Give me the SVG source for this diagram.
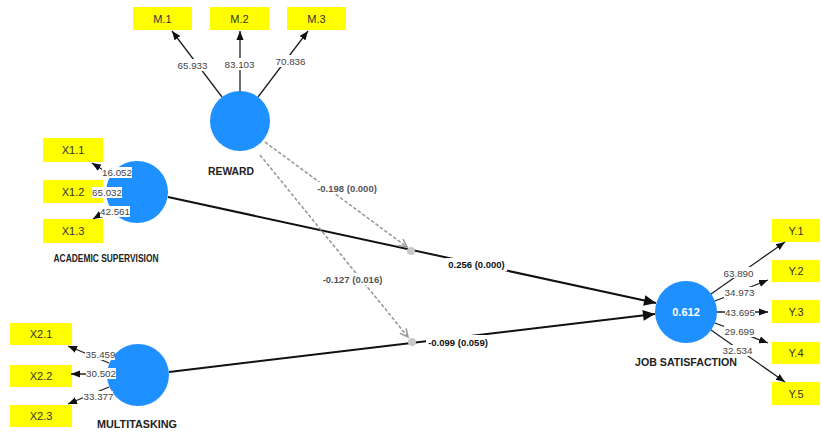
<svg xmlns="http://www.w3.org/2000/svg" width="822" height="432" viewBox="0 0 822 432">
<style>
.bg{fill:#ffffff}
.lv{fill:#1E90FF}
.box{fill:#FFFF00}
.bt{font-family:"Liberation Sans",Arial,sans-serif;font-size:11px;fill:#333;text-anchor:middle}
.nm{font-family:"Liberation Sans",Arial,sans-serif;font-size:11px;font-weight:bold;fill:#222;text-anchor:middle}
.r2{font-family:"Liberation Sans",Arial,sans-serif;font-size:11px;font-weight:bold;fill:#fff;text-anchor:middle}
.ld{stroke:#222;stroke-width:1.3;fill:none}
.lt{font-family:"Liberation Sans",Arial,sans-serif;font-size:9.8px;fill:#444;text-anchor:middle}
.lb{fill:#fff}
.mp{stroke:#111;stroke-width:2;fill:none}
.pt{font-family:"Liberation Sans",Arial,sans-serif;font-size:9.5px;font-weight:bold;fill:#111;text-anchor:middle}
.dp{stroke:#9a9a9a;stroke-width:1.6;stroke-dasharray:3.5,2;fill:none}
.dt{font-family:"Liberation Sans",Arial,sans-serif;font-size:9.5px;font-weight:bold;fill:#555;text-anchor:middle}
.dot{fill:#c8c8c8}
</style>
<defs>
<marker id="ah" viewBox="0 0 10 10" refX="10" refY="5" markerWidth="9" markerHeight="9" markerUnits="userSpaceOnUse" orient="auto"><path d="M0,1 L10,5 L0,9 z" fill="#111"/></marker>
<marker id="big" viewBox="0 0 10 10" refX="10" refY="5" markerWidth="14" markerHeight="12" markerUnits="userSpaceOnUse" orient="auto"><path d="M0,0.5 L10,5 L0,9.5 z" fill="#111"/></marker>
<marker id="oa" viewBox="0 0 10 10" refX="9" refY="5" markerWidth="10" markerHeight="10" markerUnits="userSpaceOnUse" orient="auto"><path d="M1,1 L9,5 L1,9" fill="none" stroke="#9a9a9a" stroke-width="1.5"/></marker>
</defs>
<rect class="bg" x="0" y="0" width="822" height="432"/>

<g id="reward">
<circle class="lv" cx="240" cy="121" r="30"/>
<text class="nm" x="231" y="175" textLength="46" lengthAdjust="spacingAndGlyphs">REWARD</text>
</g>
<g id="m1"><rect class="box" x="133" y="7" width="59" height="23"/><text class="bt" x="162.5" y="22.5">M.1</text></g>
<g id="m2"><rect class="box" x="210" y="7" width="59" height="23"/><text class="bt" x="239.5" y="22.5">M.2</text></g>
<g id="m3"><rect class="box" x="287" y="7" width="59" height="23"/><text class="bt" x="316.5" y="22.5">M.3</text></g>

<g id="academic-supervision">
<circle class="lv" cx="137" cy="192" r="31"/>
<text class="nm" x="106" y="262" textLength="105" lengthAdjust="spacingAndGlyphs">ACADEMIC SUPERVISION</text>
</g>
<g id="x1-1"><rect class="box" x="43" y="138" width="60" height="24"/><text class="bt" x="73" y="154">X1.1</text></g>
<g id="x1-2"><rect class="box" x="43" y="180" width="60" height="23"/><text class="bt" x="73" y="195.5">X1.2</text></g>
<g id="x1-3"><rect class="box" x="43" y="219" width="60" height="24"/><text class="bt" x="73" y="235">X1.3</text></g>

<g id="multitasking">
<circle class="lv" cx="138" cy="375" r="31"/>
<text class="nm" x="137" y="428" textLength="80" lengthAdjust="spacingAndGlyphs">MULTITASKING</text>
</g>
<g id="x2-1"><rect class="box" x="10" y="323" width="62" height="22"/><text class="bt" x="41" y="338">X2.1</text></g>
<g id="x2-2"><rect class="box" x="10" y="365" width="62" height="22"/><text class="bt" x="41" y="380">X2.2</text></g>
<g id="x2-3"><rect class="box" x="10" y="405" width="62" height="22"/><text class="bt" x="41" y="420">X2.3</text></g>

<g id="job-satisfaction">
<circle class="lv" cx="686" cy="312" r="31"/>
<text class="r2" x="686" y="316">0.612</text>
<text class="nm" x="686" y="366" textLength="102" lengthAdjust="spacingAndGlyphs">JOB SATISFACTION</text>
</g>
<g id="y1"><rect class="box" x="772" y="219" width="48" height="23"/><text class="bt" x="796" y="234.5">Y.1</text></g>
<g id="y2"><rect class="box" x="772" y="260" width="48" height="22"/><text class="bt" x="796" y="275">Y.2</text></g>
<g id="y3"><rect class="box" x="772" y="300" width="48" height="23"/><text class="bt" x="796" y="315.5">Y.3</text></g>
<g id="y4"><rect class="box" x="772" y="342" width="48" height="22"/><text class="bt" x="796" y="357">Y.4</text></g>
<g id="y5"><rect class="box" x="772" y="382" width="48" height="23"/><text class="bt" x="796" y="397.5">Y.5</text></g>

<g id="connectors">
<!-- structural paths -->
<line class="mp" x1="168" y1="197" x2="656" y2="303" marker-end="url(#big)"/>
<line class="mp" x1="169" y1="372" x2="655" y2="314" marker-end="url(#big)"/>
<!-- moderating paths -->
<line class="dp" x1="265" y1="142" x2="407" y2="247" marker-end="url(#oa)"/>
<line class="dp" x1="260" y1="155" x2="408" y2="337" marker-end="url(#oa)"/>
<circle class="dot" cx="411" cy="251" r="4"/>
<circle class="dot" cx="412" cy="342" r="4"/>
<rect class="lb" x="446" y="258" width="61" height="13"/><text class="pt" x="476.5" y="268">0.256 (0.000)</text>
<rect class="lb" x="426" y="335" width="63" height="12"/><text class="pt" x="458" y="345.5">-0.099 (0.059)</text>
<rect class="lb" x="316" y="182" width="62" height="12"/><text class="dt" x="347" y="192">-0.198 (0.000)</text>
<rect class="lb" x="321" y="273" width="63" height="12"/><text class="dt" x="352.5" y="283">-0.127 (0.016)</text>

<!-- reward loadings -->
<line class="ld" x1="222" y1="97" x2="172" y2="31" marker-end="url(#ah)"/>
<line class="ld" x1="240" y1="91" x2="240" y2="31" marker-end="url(#ah)"/>
<line class="ld" x1="258" y1="97" x2="308" y2="31" marker-end="url(#ah)"/>
<rect class="lb" x="177" y="59" width="31" height="12"/><text class="lt" x="192.5" y="68.5">65.933</text>
<rect class="lb" x="224" y="58" width="31" height="12"/><text class="lt" x="239.5" y="67.5">83.103</text>
<rect class="lb" x="275" y="55" width="31" height="12"/><text class="lt" x="290.5" y="64.5">70.836</text>

<!-- academic supervision loadings -->
<line class="ld" x1="111" y1="175" x2="92" y2="163" marker-end="url(#ah)"/>
<line class="ld" x1="106" y1="192" x2="103" y2="192" marker-end="url(#ah)"/>
<line class="ld" x1="111" y1="208" x2="93" y2="219" marker-end="url(#ah)"/>
<rect class="lb" x="102" y="167" width="30" height="11"/><text class="lt" x="117" y="176">16.052</text>
<rect class="lb" x="92" y="187" width="30" height="11"/><text class="lt" x="107" y="196">65.032</text>
<rect class="lb" x="100" y="206" width="30" height="11"/><text class="lt" x="115" y="215">42.561</text>

<!-- multitasking loadings -->
<line class="ld" x1="109" y1="363" x2="68" y2="346" marker-end="url(#ah)"/>
<line class="ld" x1="107" y1="374" x2="71" y2="374" marker-end="url(#ah)"/>
<line class="ld" x1="109" y1="387" x2="68" y2="404" marker-end="url(#ah)"/>
<rect class="lb" x="85" y="349" width="30" height="11"/><text class="lt" x="100.5" y="358">35.459</text>
<rect class="lb" x="86" y="368" width="30" height="11"/><text class="lt" x="101" y="377">30.502</text>
<rect class="lb" x="83" y="391" width="30" height="11"/><text class="lt" x="98.5" y="400">33.377</text>

<!-- job satisfaction loadings -->
<line class="ld" x1="711" y1="294" x2="785" y2="242" marker-end="url(#ah)"/>
<line class="ld" x1="715" y1="301" x2="768" y2="280" marker-end="url(#ah)"/>
<line class="ld" x1="717" y1="312" x2="768" y2="312" marker-end="url(#ah)"/>
<line class="ld" x1="715" y1="323" x2="768" y2="343" marker-end="url(#ah)"/>
<line class="ld" x1="711" y1="330" x2="785" y2="382" marker-end="url(#ah)"/>
<rect class="lb" x="723" y="267" width="31" height="11"/><text class="lt" x="738.5" y="276.5">63.890</text>
<rect class="lb" x="724" y="287" width="31" height="11"/><text class="lt" x="739.5" y="296">34.973</text>
<rect class="lb" x="725" y="307" width="30" height="10"/><text class="lt" x="740" y="315.5">43.695</text>
<rect class="lb" x="724" y="326" width="31" height="11"/><text class="lt" x="739.5" y="335">29.699</text>
<rect class="lb" x="722" y="345" width="31" height="11"/><text class="lt" x="737.5" y="354">32.534</text>
</g>
</svg>
